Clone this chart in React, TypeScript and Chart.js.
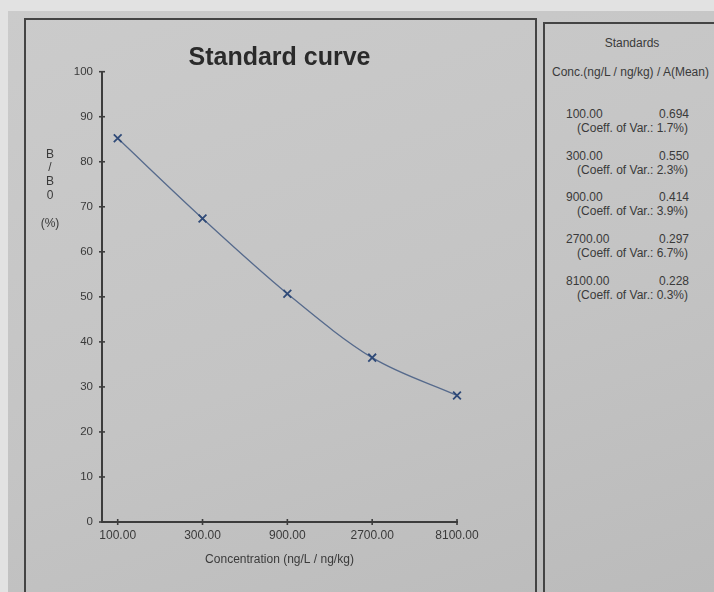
import React, { useEffect, useRef } from "react";
import { Chart, registerables } from "chart.js";

Chart.register(...registerables);

// ---- data ----
const CONCENTRATIONS = [100, 300, 900, 2700, 8100];
const B_B0_PERCENT = [85.2, 67.4, 50.7, 36.5, 28.1];
const A_MEAN = ["0.694", "0.550", "0.414", "0.297", "0.228"];
const COEFF_VAR = ["1.7%", "2.3%", "3.9%", "6.7%", "0.3%"];
const X_TICKS = [100, 300, 900, 2700, 8100];
const Y_MIN = 0;
const Y_MAX = 100;
const Y_STEP = 10;
const Y_TITLE_LINES = ["B", "/", "B", "0", "", "(%)"];
const TITLE = "Standard curve";
const X_TITLE = "Concentration (ng/L / ng/kg)";
const PANEL_TITLE = "Standards";
const PANEL_HEADER = "Conc.(ng/L / ng/kg) / A(Mean)";

const FONT = "'Liberation Sans', Arial, Helvetica, sans-serif";
const INK = "#3a3a3a";
const AXIS = "#3c3c3c";

const extras = {
  id: "extras",
  afterDraw(chart: any) {
    const { ctx, chartArea } = chart;
    const x = chart.scales.x;
    const y = chart.scales.y;
    ctx.save();
    ctx.strokeStyle = AXIS;
    ctx.lineWidth = 1.6;
    y.ticks.forEach((t: any) => {
      const py = y.getPixelForValue(t.value);
      ctx.beginPath();
      ctx.moveTo(chartArea.left - 3, py);
      ctx.lineTo(chartArea.left + 3, py);
      ctx.stroke();
    });
    x.ticks.forEach((t: any) => {
      const px = x.getPixelForValue(t.value);
      ctx.beginPath();
      ctx.moveTo(px, chartArea.bottom - 3);
      ctx.lineTo(px, chartArea.bottom + 3);
      ctx.stroke();
    });
    ctx.fillStyle = INK;
    ctx.font = `12px ${FONT}`;
    ctx.textAlign = "center";
    ctx.textBaseline = "middle";
    Y_TITLE_LINES.forEach((s, i) => {
      if (s) ctx.fillText(s, chartArea.left - 52, chartArea.top + 82.5 + i * 13.8);
    });
    ctx.restore();
  },
};

function ChartCanvas() {
  const ref = useRef<HTMLCanvasElement | null>(null);
  useEffect(() => {
    if (!ref.current) return;
    Chart.defaults.font.family = FONT;
    const chart = new Chart(ref.current, {
      type: "line",
      data: {
        datasets: [
          {
            data: CONCENTRATIONS.map((c, i) => ({ x: c, y: B_B0_PERCENT[i] })),
            borderColor: "#566a8c",
            borderWidth: 1.3,
            cubicInterpolationMode: "monotone",
            pointStyle: "crossRot",
            pointRadius: 5.5,
            pointBorderColor: "#2f4a78",
            pointBorderWidth: 1.8,
            pointBackgroundColor: "#2f4a78",
            fill: false,
            clip: false,
          },
        ],
      },
      options: {
        responsive: false,
        animation: false,
        layout: { padding: { left: 0, right: 76, top: 0, bottom: 20 } },
        plugins: {
          legend: { display: false },
          tooltip: { enabled: false },
          title: {
            display: true,
            text: TITLE,
            fullSize: false,
            color: "#2a2a2a",
            font: { size: 25, weight: "bold", family: FONT, lineHeight: 1 },
            padding: { top: 24.8, bottom: 0.9 },
          },
        },
        scales: {
          x: {
            type: "logarithmic",
            min: 81.6,
            max: 8100,
            bounds: "data",
            grid: { display: false, drawTicks: false },
            border: { display: true, color: AXIS, width: 2 },
            afterBuildTicks: (scale: any) => {
              scale.ticks = X_TICKS.map((v) => ({ value: v }));
            },
            afterFit: (scale: any) => {
              scale.height = 50;
            },
            ticks: {
              autoSkip: false,
              maxRotation: 0,
              padding: 6.8,
              color: INK,
              font: { size: 12, family: FONT },
              callback: (v: any) => Number(v).toFixed(2),
            },
            title: {
              display: true,
              text: X_TITLE,
              color: INK,
              font: { size: 12, family: FONT },
              padding: { top: 0, bottom: 4.8 },
            },
          },
          y: {
            type: "linear",
            min: Y_MIN,
            max: Y_MAX,
            grid: { display: false, drawTicks: false },
            border: { display: true, color: AXIS, width: 2 },
            afterFit: (scale: any) => {
              scale.width = 76;
            },
            ticks: {
              stepSize: Y_STEP,
              padding: 9,
              color: INK,
              font: { size: 11.5, family: FONT },
            },
          },
        },
      },
      plugins: [extras],
    } as any);
    return () => chart.destroy();
  }, []);
  return <canvas ref={ref} width={507} height={571} style={{ display: "block" }} />;
}

export default function App() {
  useEffect(() => {
    document.body.style.background = "#e2e2e2";
  }, []);
  const text: React.CSSProperties = {
    position: "absolute",
    fontFamily: FONT,
    fontSize: 12,
    lineHeight: "14px",
    color: INK,
    whiteSpace: "nowrap",
  };
  return (
    <div style={{ position: "absolute", left: 0, top: 0, width: 714, height: 592, overflow: "hidden", background: "#e2e2e2" }}>
      <div
        style={{
          position: "absolute",
          left: 8,
          top: 11,
          width: 706,
          height: 581,
          background: "linear-gradient(160deg, #cbcbcb 0%, #c4c4c4 55%, #bbbbbb 100%)",
        }}
      />
      <div
        style={{
          position: "absolute",
          left: 24,
          top: 18,
          width: 513,
          height: 640,
          border: "2px solid #444",
          boxSizing: "border-box",
        }}
      />
      <div
        style={{
          position: "absolute",
          left: 543,
          top: 22,
          width: 300,
          height: 640,
          border: "2px solid #444",
          boxSizing: "border-box",
        }}
      />
      <div style={{ position: "absolute", left: 26, top: 21, width: 507, height: 571 }}>
        <ChartCanvas />
      </div>
      <div style={{ ...text, left: 582, top: 36, width: 100, textAlign: "center" }}>{PANEL_TITLE}</div>
      <div style={{ ...text, left: 552, top: 65 }}>{PANEL_HEADER}</div>
      {CONCENTRATIONS.map((c, i) => {
        const cy = 114 + i * 41.7;
        return (
          <React.Fragment key={c}>
            <div style={{ ...text, left: 566, top: cy - 7 }}>{c.toFixed(2)}</div>
            <div style={{ ...text, left: 600, top: cy - 7, width: 89, textAlign: "right" }}>{A_MEAN[i]}</div>
            <div style={{ ...text, left: 540, top: cy + 7, width: 148, textAlign: "right" }}>
              {`(Coeff. of Var.: ${COEFF_VAR[i]})`}
            </div>
          </React.Fragment>
        );
      })}
    </div>
  );
}
